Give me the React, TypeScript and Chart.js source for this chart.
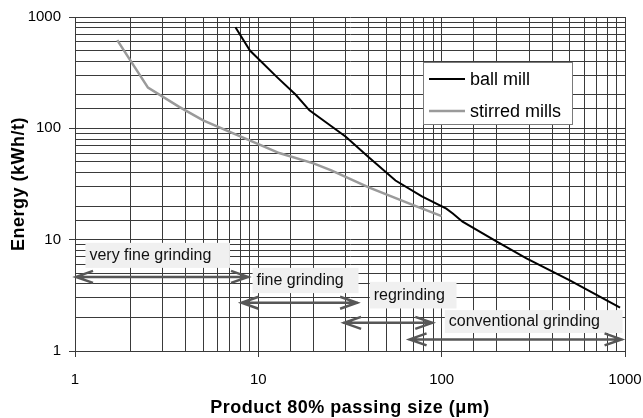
import React, { useEffect, useRef } from 'react';
import { Chart, registerables } from 'chart.js';

Chart.register(...registerables);

// ---- data ----
const seriesNames = ['ball mill', 'stirred mills'];
const ballMillSize = [7.5, 9, 12.6, 16, 19, 24.5, 30, 40, 56, 78, 106, 115, 130, 200, 290, 500, 940];
const ballMillEnergy = [810, 500, 290, 200, 145, 107, 84, 55, 34, 24.5, 19, 17.2, 14.5, 9.6, 6.8, 4.3, 2.45];
const stirredSize = [1.7, 2.5, 3.7, 5, 7.3, 10, 13, 20, 25, 40, 70, 100];
const stirredEnergy = [620, 232, 156, 118, 90, 72, 60, 48.5, 42, 29.5, 20.4, 16.3];

const axisTickLabels = ['1', '10', '100', '1000'];

const rangeNames = ['very fine grinding', 'fine grinding', 'regrinding', 'conventional grinding'];
const rangeFrom = [1, 8, 29, 66];
const rangeTo = [8.9, 35, 90, 970];
const rangeEnergy = [4.63, 2.71, 1.79, 1.27];
const labelFrom = [1.14, 9.3, 40.5, 104];
const labelTo = [7.0, 35.2, 120.5, 970];
const labelTop = [9.36, 5.58, 4.18, 2.33];
const labelBottom = [5.58, 3.31, 2.41, 1.45];

const FONT = "'Liberation Sans', Arial, Helvetica, sans-serif";
const GRID = '#3a3a3a';

const isMajor = (v: number) => Math.abs(Math.log10(v) - Math.round(Math.log10(v))) < 1e-9;

const overlay = {
  id: 'overlay',
  afterDatasetsDraw(chart: any) {
    const ctx = chart.ctx as CanvasRenderingContext2D;
    const xs = chart.scales.x;
    const ys = chart.scales.y;
    const area = chart.chartArea;
    ctx.save();

    // range annotations
    for (let i = 0; i < rangeNames.length; i++) {
      const bx0 = xs.getPixelForValue(labelFrom[i]);
      const bx1 = xs.getPixelForValue(labelTo[i]);
      const by0 = ys.getPixelForValue(labelTop[i]);
      const by1 = ys.getPixelForValue(labelBottom[i]);
      ctx.fillStyle = '#f0f0f0';
      ctx.fillRect(bx0, by0, bx1 - bx0, by1 - by0);
      ctx.fillStyle = '#111';
      ctx.font = `16px ${FONT}`;
      ctx.textAlign = 'left';
      ctx.textBaseline = 'middle';
      ctx.fillText(rangeNames[i], bx0 + 4, (by0 + by1) / 2);

      const ax0 = xs.getPixelForValue(rangeFrom[i]);
      const ax1 = xs.getPixelForValue(rangeTo[i]);
      const ay = ys.getPixelForValue(rangeEnergy[i]);
      ctx.strokeStyle = '#575757';
      ctx.lineWidth = 2.5;
      ctx.beginPath();
      ctx.moveTo(ax0, ay);
      ctx.lineTo(ax1, ay);
      ctx.moveTo(ax0 + 18, ay - 6);
      ctx.lineTo(ax0 + 1, ay);
      ctx.lineTo(ax0 + 18, ay + 6);
      ctx.moveTo(ax1 - 18, ay - 6);
      ctx.lineTo(ax1 - 1, ay);
      ctx.lineTo(ax1 - 18, ay + 6);
      ctx.stroke();
    }

    // legend
    const lx = 423, ly = 62, lw = 149, lh = 62;
    ctx.fillStyle = '#ffffff';
    ctx.fillRect(lx, ly, lw, lh);
    ctx.strokeStyle = '#7a7a7a';
    ctx.lineWidth = 1;
    ctx.strokeRect(lx + 0.5, ly + 0.5, lw, lh);
    chart.data.datasets.forEach((ds: any, i: number) => {
      const yy = ly + 17 + i * 32;
      ctx.strokeStyle = ds.borderColor;
      ctx.lineWidth = ds.borderWidth;
      ctx.beginPath();
      ctx.moveTo(lx + 6, yy);
      ctx.lineTo(lx + 42, yy);
      ctx.stroke();
      ctx.fillStyle = '#000';
      ctx.font = `18px ${FONT}`;
      ctx.textAlign = 'left';
      ctx.textBaseline = 'middle';
      ctx.fillText(ds.label, lx + 47, yy + 1);
    });

    // axis titles
    ctx.fillStyle = '#000';
    ctx.font = `bold 18px ${FONT}`;
    ctx.textAlign = 'center';
    ctx.textBaseline = 'middle';
    (ctx as any).letterSpacing = '0.5px';
    ctx.fillText('Product 80% passing size (\u03bcm)', (area.left + area.right) / 2, 408);
    ctx.save();
    ctx.translate(19, (area.top + area.bottom) / 2);
    ctx.rotate(-Math.PI / 2);
    ctx.fillText('Energy (kWh/t)', 0, 0);
    ctx.restore();
    (ctx as any).letterSpacing = '0px';

    ctx.restore();
  },
};

const tickCallback = (value: any) => {
  const v = Number(value);
  if (!isMajor(v)) return '';
  const idx = Math.round(Math.log10(v));
  return axisTickLabels[idx] ?? '';
};

export default function App() {
  const canvasRef = useRef<HTMLCanvasElement | null>(null);

  useEffect(() => {
    const canvas = canvasRef.current;
    if (!canvas) return;
    const chart = new Chart(canvas, {
      type: 'line',
      data: {
        datasets: [
          {
            label: seriesNames[0],
            data: ballMillSize.map((x, i) => ({ x, y: ballMillEnergy[i] })),
            borderColor: '#000000',
            borderWidth: 2,
            pointRadius: 0,
            tension: 0,
            fill: false,
          },
          {
            label: seriesNames[1],
            data: stirredSize.map((x, i) => ({ x, y: stirredEnergy[i] })),
            borderColor: '#9a9a9a',
            borderWidth: 2.5,
            pointRadius: 0,
            tension: 0,
            fill: false,
          },
        ],
      },
      options: {
        animation: false,
        responsive: false,
        maintainAspectRatio: false,
        layout: { padding: { top: 17, right: 18, left: 0, bottom: 0 } },
        plugins: {
          legend: { display: false },
          tooltip: { enabled: false },
          title: { display: false },
        },
        scales: {
          x: {
            type: 'logarithmic',
            min: 1,
            max: 1000,
            afterFit: (s: any) => { s.height = 67; s.paddingLeft = 0; s.paddingRight = 0; },
            grid: {
              color: GRID,
              lineWidth: 1,
              drawTicks: true,
              tickLength: 6,
              tickColor: (c: any) => (c.tick && isMajor(c.tick.value) ? GRID : 'rgba(0,0,0,0)'),
            },
            border: { color: GRID, width: 1 },
            ticks: {
              autoSkip: false,
              maxRotation: 0,
              color: '#000',
              font: { family: FONT, size: 15 },
              padding: 14,
              callback: tickCallback,
            },
          },
          y: {
            type: 'logarithmic',
            min: 1,
            max: 1000,
            afterFit: (s: any) => { s.width = 75; s.paddingTop = 0; s.paddingBottom = 0; },
            grid: {
              color: GRID,
              lineWidth: 1,
              drawTicks: true,
              tickLength: 6,
              tickColor: (c: any) => (c.tick && isMajor(c.tick.value) ? GRID : 'rgba(0,0,0,0)'),
            },
            border: { color: GRID, width: 1 },
            ticks: {
              autoSkip: false,
              color: '#000',
              font: { family: FONT, size: 15 },
              padding: 8,
              callback: tickCallback,
            },
          },
        },
      },
      plugins: [overlay],
    });
    return () => chart.destroy();
  }, []);

  return (
    <div style={{ position: 'fixed', left: 0, top: 0, width: 643, height: 418, background: '#fff' }}>
      <canvas ref={canvasRef} width={643} height={418} style={{ width: 643, height: 418, display: 'block' }} />
    </div>
  );
}
